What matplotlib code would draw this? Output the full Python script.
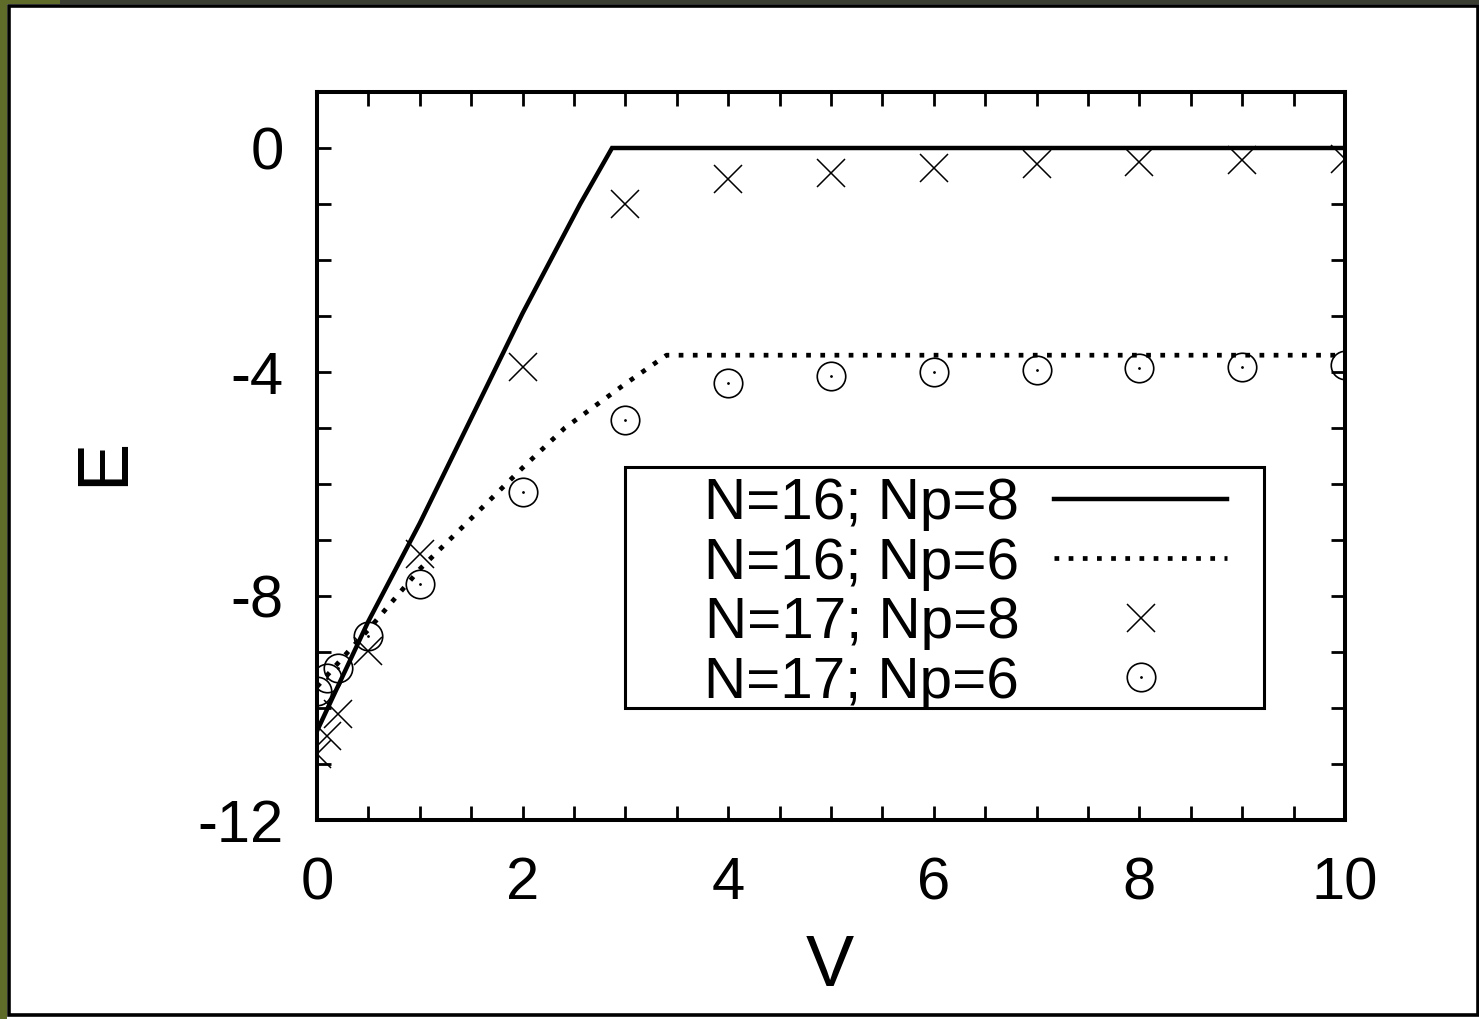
import matplotlib
matplotlib.use('Agg')
import matplotlib.pyplot as plt
from matplotlib.patches import Rectangle
from matplotlib.ticker import MultipleLocator

# ---- data ----
labels = ["N=16; Np=8", "N=16; Np=6", "N=17; Np=8", "N=17; Np=6"]

V_n16_np8 = [0.0, 0.5, 1.0, 2.0, 2.56, 2.87, 10.0]
E_n16_np8 = [-10.41, -8.45, -6.7, -2.95, -1.0, 0.0, 0.0]

V_n16_np6 = [0.0, 0.3, 0.5, 1.0, 2.0, 2.41, 3.0, 3.4, 10.0]
E_n16_np6 = [-9.62, -9.0, -8.6, -7.52, -5.71, -5.0, -4.21, -3.70, -3.70]

V_pts = [0.0, 0.1, 0.2, 0.5, 1, 2, 3, 4, 5, 6, 7, 8, 9, 10]
E_n17_np8 = [-10.82, -10.5, -10.1, -8.98, -7.25, -3.91, -1.0, -0.55, -0.45,
             -0.36, -0.29, -0.25, -0.21, -0.2]
E_n17_np6 = [-9.70, -9.46, -9.28, -8.71, -7.79, -6.14, -4.86, -4.2, -4.07,
             -4.0, -3.96, -3.93, -3.91, -3.88]

xticks = [0, 2, 4, 6, 8, 10]
yticks = [0, -4, -8, -12]

# ---- figure ----
W, H = 1479, 1019
plt.rcParams['font.family'] = ['Liberation Sans', 'DejaVu Sans']
plt.rcParams['axes.unicode_minus'] = False
fig = plt.figure(figsize=(W / 100, H / 100), dpi=100, facecolor='white')

# screenshot-like frame
fig.patches.append(Rectangle((0, 0), 7 / W, 1, transform=fig.transFigure,
                             facecolor='#5f6b28', edgecolor='none', zorder=0))
fig.patches.append(Rectangle((0, 1 - 4 / H), 1, 4 / H, transform=fig.transFigure,
                             facecolor='#3a3d32', edgecolor='none', zorder=0))
fig.patches.append(Rectangle((0, 1 - 4 / H), 60 / W, 4 / H, transform=fig.transFigure,
                             facecolor='#5f6b28', edgecolor='none', zorder=0))
fig.patches.append(Rectangle((8.5 / W, 4 / H), (W - 10) / W, (H - 9.5) / H,
                             transform=fig.transFigure, facecolor='none',
                             edgecolor='black', linewidth=2.6, zorder=1))

ax = fig.add_axes([317 / W, 1 - 820 / H, 1028 / W, 728 / H])

ax.plot(V_n16_np8, E_n16_np8, color='black', lw=3.2, solid_joinstyle='miter',
        label=labels[0], zorder=3)
ax.plot(V_n16_np6, E_n16_np6, color='black', lw=3.4, linestyle=(0, (1, 2.0)),
        dash_capstyle='butt', label=labels[1], zorder=3)
ax.plot(V_pts, E_n17_np8, linestyle='none', marker='x', markersize=20,
        markeredgewidth=1.1, color='black', label=labels[2], zorder=4)
h_circ = ax.plot(V_pts, E_n17_np6, linestyle='none', marker='o', markersize=20.5,
                 markeredgewidth=1.2, markerfacecolor='none',
                 markeredgecolor='black', zorder=4)[0]
h_dot = ax.plot(V_pts, E_n17_np6, linestyle='none', marker='.', markersize=2,
                color='black', zorder=4)[0]

ax.set_xlim(0, 10)
ax.set_ylim(-12, 1)
ax.set_xticks(xticks)
ax.set_yticks(yticks)
ax.xaxis.set_minor_locator(MultipleLocator(0.5))
ax.yaxis.set_minor_locator(MultipleLocator(1))
ax.tick_params(which='both', direction='in', top=True, right=True,
               length=10, width=2.0, color='black')
ax.tick_params(axis='x', which='major', labelsize=43, pad=26)
ax.tick_params(axis='y', which='major', labelsize=43, pad=24)
for s in ax.spines.values():
    s.set_linewidth(2.9)

ax.set_xlabel('V', fontsize=52)
ax.set_ylabel('E', fontsize=52)
ax.xaxis.set_label_coords(0.499, -0.156)
ax.yaxis.set_label_coords(-0.174, 0.492)

# legend frame box
ax.add_patch(Rectangle((0.2996, 0.154), 0.6216, 0.331, transform=ax.transAxes,
                       facecolor='white', edgecolor='black', linewidth=2.2,
                       zorder=5))

handles = [ax.lines[0], ax.lines[1], ax.lines[2], (h_circ, h_dot)]
leg = ax.legend(handles, labels, loc='upper left',
                bbox_to_anchor=(0.3765, 0.471), markerfirst=False,
                fontsize=42, frameon=False, handlelength=2.97,
                handletextpad=0.6, borderpad=0, labelspacing=0.095,
                borderaxespad=0)
leg.set_zorder(6)

fig.savefig('out.png', dpi=100, facecolor=fig.get_facecolor())
